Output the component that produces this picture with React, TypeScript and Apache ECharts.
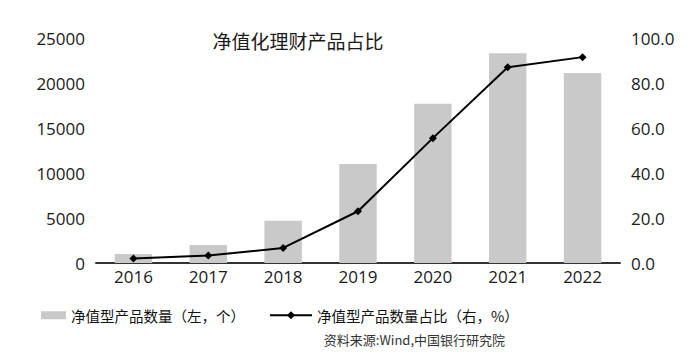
import React, { useEffect, useRef } from "react";
import * as echarts from "echarts";

const years = ["2016", "2017", "2018", "2019", "2020", "2021", "2022"];
const productCount = [1000, 2000, 4700, 11000, 17700, 23300, 21100];
const productShare = [2.0, 3.3, 6.7, 23.0, 55.5, 87.0, 91.5];
const barName = "净值型产品数量（左，个）";
const lineName = "净值型产品数量占比（右，%）";
const titleText = "净值化理财产品占比";
const sourceText = "资料来源:Wind,中国银行研究院";

const FONT = "'Open Sans', 'Noto Sans CJK SC', sans-serif";
const CJK = "'Noto Sans CJK SC', sans-serif";

export default function App() {
  const ref = useRef<HTMLDivElement>(null);
  useEffect(() => {
    if (!ref.current) return;
    document.body.style.margin = "0";
    const chart = echarts.init(ref.current, null, { renderer: "svg" });
    chart.setOption({
      animation: false,
      backgroundColor: "#ffffff",
      title: {
        text: titleText,
        left: 293,
        textAlign: "center",
        top: 26,
        textStyle: { fontFamily: CJK, fontSize: 19, fontWeight: "normal", color: "#1a1a1a" },
      },
      grid: { left: 96, right: 80, top: 38, bottom: 97 },
      legend: [
        {
          data: [barName],
          left: 36,
          top: 303,
          itemWidth: 25,
          itemHeight: 8,
          icon: "rect",
          textStyle: { fontFamily: CJK, fontSize: 14.5, color: "#111111" },
        },
        {
          data: [lineName],
          left: 264,
          top: 303,
          itemWidth: 42,
          itemHeight: 10,
          textStyle: { fontFamily: CJK, fontSize: 14.5, color: "#111111" },
        },
      ],
      xAxis: {
        type: "category",
        data: years,
        axisLine: { lineStyle: { color: "#333333", width: 2 } },
        axisTick: { show: false },
        axisLabel: { fontFamily: FONT, fontSize: 17, color: "#1a1a1a", margin: 5 },
      },
      yAxis: [
        {
          type: "value",
          min: 0,
          max: 25000,
          interval: 5000,
          axisLine: { show: false },
          axisTick: { show: false },
          splitLine: { show: false },
          axisLabel: {
            fontFamily: FONT,
            fontSize: 17,
            color: "#1a1a1a",
            margin: 11,
            formatter: (v: number) => String(v),
          },
        },
        {
          type: "value",
          min: 0,
          max: 100,
          interval: 20,
          position: "right",
          axisLine: { show: false },
          axisTick: { show: false },
          splitLine: { show: false },
          axisLabel: {
            fontFamily: FONT,
            fontSize: 17,
            color: "#1a1a1a",
            margin: 11,
            formatter: (v: number) => v.toFixed(1),
          },
        },
      ],
      series: [
        {
          name: barName,
          type: "bar",
          data: productCount,
          barWidth: "50%",
          itemStyle: { color: "#c9c9c9" },
          yAxisIndex: 0,
        },
        {
          name: lineName,
          type: "line",
          data: productShare,
          yAxisIndex: 1,
          symbol: "diamond",
          symbolSize: 8,
          lineStyle: { color: "#000000", width: 2 },
          itemStyle: { color: "#000000" },
        },
      ],
      graphic: [
        {
          type: "text",
          right: 195,
          top: 333,
          style: { text: sourceText, font: `13px ${CJK}`, fill: "#333333" },
        },
      ],
    });
    return () => chart.dispose();
  }, []);
  return <div ref={ref} style={{ width: 700, height: 360 }} />;
}
